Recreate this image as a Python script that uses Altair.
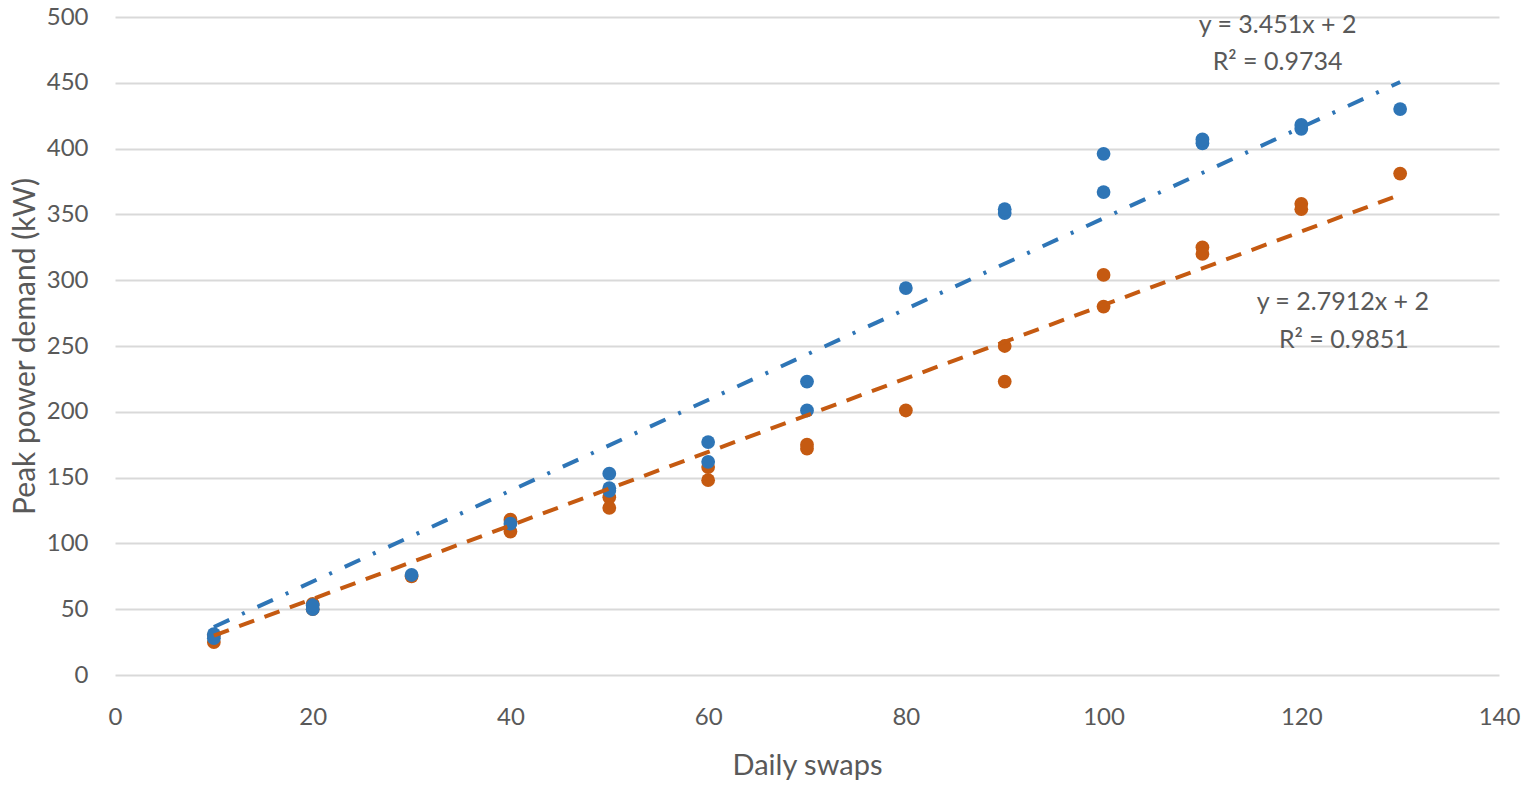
import altair as alt
import pandas as pd

# Daily swaps (x) and peak power demand (y) for each observed point
blue_x = [10, 10, 20, 20, 30, 40, 50, 50, 50, 60, 60, 70, 70, 80, 90, 90, 100, 100, 110, 110, 120, 120, 130]
blue_y = [28, 31, 50, 53, 76, 115, 153, 142, 140, 177, 162, 223, 201, 294, 351, 354, 396, 367, 404, 407, 415, 418, 430]

orange_x = [10, 10, 20, 20, 30, 40, 40, 50, 50, 60, 60, 70, 70, 80, 90, 90, 100, 100, 110, 110, 120, 120, 130]
orange_y = [25, 30, 50, 54, 75, 118, 109, 135, 127, 158, 148, 172, 175, 201, 250, 223, 304, 280, 325, 320, 358, 354, 381]

# Trendline end points
trend_x = [10, 130]
trend_blue = [36.5, 450.6]
trend_orange = [29.9, 364.9]

# Trendline labels
label_text = ["y = 3.451x + 2", "R² = 0.9734", "y = 2.7912x + 2", "R² = 0.9851"]
label_x = [117.6, 117.6, 124.2, 124.3]
label_y = [494, 466, 283.4, 254.6]

BLUE = "#2E75B6"
ORANGE = "#C55A11"
GREY = "#595959"
FONT = "Lato"

po = pd.DataFrame({"x": orange_x, "y": orange_y})
pb = pd.DataFrame({"x": blue_x, "y": blue_y})
tb = pd.DataFrame({"x": trend_x, "y": trend_blue})
to = pd.DataFrame({"x": trend_x, "y": trend_orange})
lab = pd.DataFrame({"t": label_text, "x": label_x, "y": label_y})

xs = alt.Scale(domain=[0, 140], nice=False)
ys = alt.Scale(domain=[0, 500], nice=False)

xaxis = alt.Axis(values=list(range(0, 141, 20)), title="Daily swaps", grid=False, domain=False,
                 ticks=False, labelPadding=30, titlePadding=22, labelFontSize=24, titleFontSize=29,
                 labelColor=GREY, titleColor=GREY, labelFont=FONT, titleFont=FONT,
                 titleFontWeight="normal", labelFlush=False)
yaxis = alt.Axis(values=list(range(0, 501, 50)), title="Peak power demand (kW)", grid=True,
                 gridColor="#D9D9D9", gridWidth=2, domain=False, ticks=False, labelPadding=27,
                 titlePadding=6, labelFontSize=24, titleFontSize=30, labelColor=GREY,
                 titleColor=GREY, labelFont=FONT, titleFont=FONT, titleFontWeight="normal",
                 labelFlush=False)

pts_o = alt.Chart(po).mark_circle(size=190, opacity=1, color=ORANGE).encode(
    x=alt.X("x:Q", scale=xs, axis=xaxis),
    y=alt.Y("y:Q", scale=ys, axis=yaxis),
)
pts_b = alt.Chart(pb).mark_circle(size=190, opacity=1, color=BLUE).encode(
    x=alt.X("x:Q", scale=xs), y=alt.Y("y:Q", scale=ys))

line_o = alt.Chart(to).mark_line(color=ORANGE, strokeWidth=4, strokeDash=[16, 11]).encode(
    x=alt.X("x:Q", scale=xs), y=alt.Y("y:Q", scale=ys))
line_b = alt.Chart(tb).mark_line(color=BLUE, strokeWidth=4, strokeDash=[17, 14, 3, 14]).encode(
    x=alt.X("x:Q", scale=xs), y=alt.Y("y:Q", scale=ys))

text = alt.Chart(lab).mark_text(fontSize=25, font=FONT, color=GREY, align="center",
                                baseline="middle").encode(
    x=alt.X("x:Q", scale=xs), y=alt.Y("y:Q", scale=ys), text="t:N")

chart = alt.layer(pts_o, pts_b, line_o, line_b, text).properties(
    width=1384, height=658,
    autosize=alt.AutoSizeParams(type="none"),
    padding={"left": 107, "top": 9, "right": 22, "bottom": 108},
).configure_view(stroke=None)

chart.save("out.html", embed_options={"renderer": "svg", "actions": False})
